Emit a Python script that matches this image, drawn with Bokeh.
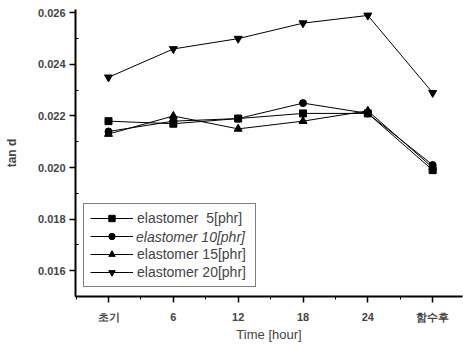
from bokeh.plotting import figure
from bokeh.models import FixedTicker, Range1d, Legend, LegendItem
from bokeh.embed import file_html
from bokeh.resources import INLINE

x_labels = ["초기", "6", "12", "18", "24", "함수후"]
x_idx = [0, 1, 2, 3, 4, 5]
e5 = [0.0218, 0.0217, 0.0219, 0.0221, 0.0221, 0.0199]
e10 = [0.0214, 0.0218, 0.0219, 0.0225, 0.0221, 0.0201]
e15 = [0.0213, 0.0220, 0.0215, 0.0218, 0.0222, 0.0200]
e20 = [0.0235, 0.0246, 0.0250, 0.0256, 0.0259, 0.0229]
names = ["elastomer  5[phr]", "elastomer 10[phr]", "elastomer 15[phr]", "elastomer 20[phr]"]

p = figure(width=463, height=345, output_backend="svg", toolbar_location=None,
           x_range=Range1d(-0.509, 5.46), y_range=Range1d(0.015, 0.02613),
           min_border_left=75, min_border_right=1, min_border_top=9, min_border_bottom=49)
p.outline_line_color = None
p.grid.visible = False
p.background_fill_color = "white"

font = "Liberation Sans"
# x axis
xa = p.xaxis[0]
xa.ticker = FixedTicker(ticks=x_idx, minor_ticks=[-0.5, 0.5, 1.5, 2.5, 3.5, 4.5, 5.5])
xa.major_label_overrides = {i: l for i, l in zip(x_idx, x_labels)}
xa.axis_label = "Time [hour]"
xa.axis_label_text_font = font
xa.axis_label_text_font_style = "normal"
xa.axis_label_text_font_size = "13px"
xa.axis_label_standoff = 1
xa.major_label_text_font = font
xa.major_label_text_font_style = "bold"
xa.major_label_text_font_size = "11px"
xa.major_label_standoff = 8
xa.major_tick_in = 0
xa.major_tick_out = 6
xa.minor_tick_in = 0
xa.minor_tick_out = 3
xa.axis_line_width = 2
xa.major_tick_line_width = 1.5

ya = p.yaxis[0]
ya.ticker = FixedTicker(ticks=[0.016, 0.018, 0.020, 0.022, 0.024, 0.026],
                        minor_ticks=[0.015, 0.017, 0.019, 0.021, 0.023, 0.025])
ya.major_label_overrides = {0.016: "0.016", 0.018: "0.018", 0.02: "0.020",
                            0.022: "0.022", 0.024: "0.024", 0.026: "0.026"}
ya.axis_label = "tan d"
ya.axis_label_text_font = font
ya.axis_label_text_font_style = "bold"
ya.axis_label_text_font_size = "12px"
ya.axis_label_standoff = 16
ya.major_label_text_font = font
ya.major_label_text_font_style = "bold"
ya.major_label_text_font_size = "11px"
ya.major_label_standoff = 4
ya.major_tick_in = 0
ya.major_tick_out = 6
ya.minor_tick_in = 3
ya.minor_tick_out = 0
ya.axis_line_width = 2
ya.major_tick_line_width = 1.5

# transparent, empty renderer so the italic overlay row draws no second glyph
ghost = p.line(x=[], y=[], line_alpha=0)

items = []
overlay_items = []
series = [(e5, "square", 7), (e10, "circle", 7),
          (e15, "triangle", 8), (e20, "inverted_triangle", 8)]
for k, ((vals, mk, sz), nm) in enumerate(zip(series, names)):
    r1 = p.line(x_idx, vals, line_color="black", line_width=1)
    r2 = p.scatter(x_idx, vals, marker=mk, size=sz, fill_color="black", line_color="black")
    if k == 1:
        items.append(LegendItem(label=" ", renderers=[r1, r2]))
        overlay_items.append(LegendItem(label=nm, renderers=[ghost]))
    else:
        items.append(LegendItem(label=nm, renderers=[r1, r2]))

PAD, ROW, SP, BOTTOM, LEFT = 6, 16, 2, 9, 8
leg = Legend(items=items, location=(LEFT, BOTTOM))
leg.label_text_font = font
leg.label_text_font_size = "14px"
leg.label_width = 112
leg.glyph_width = 43
leg.glyph_height = ROW
leg.label_height = ROW
leg.spacing = SP
leg.padding = PAD
leg.margin = 0
leg.border_line_color = "black"
leg.border_line_width = 1.5
leg.label_standoff = 4
p.add_layout(leg, "center")

# italic label for the second item, laid over its row
row_bottom = BOTTOM + PAD + 2 * (ROW + SP)
leg2 = Legend(items=overlay_items, location=(LEFT + PAD, row_bottom))
leg2.label_text_font = font
leg2.label_text_font_style = "italic"
leg2.label_text_font_size = "14px"
leg2.glyph_width = 43
leg2.glyph_height = ROW
leg2.label_height = ROW
leg2.padding = 0
leg2.margin = 0
leg2.spacing = 0
leg2.label_standoff = 4
leg2.border_line_color = None
leg2.background_fill_alpha = 0
p.add_layout(leg2, "center")

open("out.html", "w").write(file_html(p, INLINE))
